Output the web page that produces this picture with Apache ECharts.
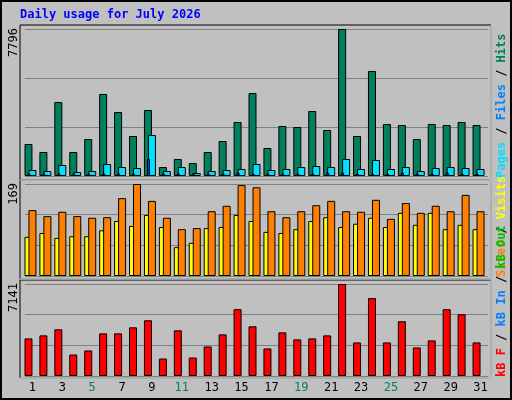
<!DOCTYPE html>
<html><head><meta charset="utf-8">
<script src="https://cdn.jsdelivr.net/npm/echarts@6/dist/echarts.min.js"></script>
<style>
html,body{margin:0;padding:0;background:#c0c0c0;}
#frame{position:absolute;left:0;top:0;width:508px;height:396px;border:2px solid #000;background:#c0c0c0;}
#c{position:absolute;left:0;top:0;width:512px;height:400px;}
</style></head><body>
<div id="frame"></div>
<div id="c"></div>
<script>
const days = ['1','2','3','4','5','6','7','8','9','10','11','12','13','14','15','16','17','18','19','20','21','22','23','24','25','26','27','28','29','30','31'];
const weekendDays = ['4','5','11','12','18','19','25','26'];
const hits = [1697,1273,3924,1273,1962,4349,3394,2121,3500,477,902,689,1273,1856,2864,4402,1485,2652,2599,3447,2440,7796,2121,5569,2758,2705,1962,2758,2705,2864,2705];
const files = [318,265,583,212,265,636,477,424,2175,265,477,159,265,318,371,636,318,371,477,530,477,902,371,849,371,477,265,424,477,424,371];
const pages = [124,124,124,124,124,124,124,124,902,124,124,124,124,124,177,124,124,124,124,124,177,177,124,124,124,177,124,124,177,124,124];
const visits = [72,79,70,73,73,84,101,92,112,90,53,61,88,90,112,101,81,79,86,101,108,90,96,107,90,116,94,116,86,94,86];
const sites = [121,110,118,110,107,108,143,169,138,107,86,88,119,129,167,163,119,108,119,130,138,119,118,140,105,134,116,129,119,149,119];
const kbF = [2919,3154,3623,1668,1981,3310,3310,3779,4326,1355,3544,1433,2293,3232,5186,3857,2137,3388,2841,2919,3154,7141,2606,6046,2606,4248,2215,2763,5186,4795,2606];
const maxLabels = ['7796','169','7141'];
const maxes = [7796,169,7141];

const chart = echarts.init(document.getElementById('c'));
const L = 25, R = 24;
const grids = [{top:29,height:147},{top:184,height:92},{top:284,height:92}];
const empty = days.map(()=>null);
const xAxes = [], series = [];
function addAxis(gi, show){
  xAxes.push({type:'category',data:days,gridIndex:gi,show:show,
    axisLine:{show:false},axisTick:{show:false},
    axisLabel:{show:show,margin:6,fontFamily:'DejaVu Sans Mono',fontSize:12,
      color:(v)=>weekendDays.includes(v)?'#00805c':'#000'}});
  return xAxes.length-1;
}
const bs = {borderColor:'#000',borderWidth:1};
function bar(name,data,ax,yi,color,w,z){
  series.push({name,type:'bar',data,xAxisIndex:ax,yAxisIndex:yi,barWidth:w,barGap:'0%',
    itemStyle:Object.assign({color},bs),z:z,silent:true,animation:false});
}
// panel 1
let a = addAxis(0,false); bar('Hits',hits,a,0,'#00805c',8,2); bar('d',empty,a,0,'#000',8,2);
a = addAxis(0,false); bar('Files',files,a,0,'#00e0ff',8,3);
a = addAxis(0,false); bar('Pages',pages,a,0,'#0040ff',3,4); bar('d',empty,a,0,'#000',7,4);
// panel 2
a = addAxis(1,false); bar('Visits',visits,a,1,'#ffff00',8,2); bar('d',empty,a,1,'#000',8,2);
a = addAxis(1,false); bar('Sites',sites,a,1,'#ff8000',8,3);
// panel 3
a = addAxis(2,true); bar('kB F',kbF,a,2,'#ff0000',8,2); bar('d',empty,a,2,'#000',8,2);

const yAxes = maxes.map((m,i)=>({type:'value',gridIndex:i,min:0,max:m,interval:m/3,
  axisLabel:{show:false},axisLine:{show:false},axisTick:{show:false},
  splitLine:{show:true,lineStyle:{color:'#808080',width:1}}}));

const panels = [[25,180],[180,279],[280,378]];
const graphic = [];
panels.forEach(([t,b])=>{
  graphic.push({type:'rect',z:-10,shape:{x:20,y:t,width:471,height:b-t},style:{fill:'#c0c0c0',stroke:'#000',lineWidth:1}});
  graphic.push({type:'polyline',z:-9,shape:{points:[[20,b],[491,b],[491,t]]},style:{stroke:'#fff',lineWidth:1,fill:null}});
});
const tops = [28,183,283];
maxLabels.forEach((s,i)=>{
  graphic.push({type:'text',x:8,y:tops[i],rotation:Math.PI/2,
    style:{text:s,fontFamily:'DejaVu Sans Mono',fontSize:12,fill:'#000',align:'right',verticalAlign:'top'}});
});
const mono = {fontFamily:'DejaVu Sans Mono',fontSize:12,fontWeight:'bold'};
function legend(yBottom,parts){
  graphic.push({type:'text',x:496,y:yBottom,rotation:Math.PI/2,
    style:Object.assign({text:parts.map((p,i)=>'{s'+i+'|'+p[0]+'}').join(''),verticalAlign:'top',align:'left',
      rich:Object.fromEntries(parts.map((p,i)=>['s'+i,Object.assign({fill:p[1]},mono)]))},mono)});
}
legend(178,[['Pages','#00e0ff'],[' / ','#000'],['Files','#0080ff'],[' / ','#000'],['Hits','#00805c']]);
legend(277,[['Sites','#ff8000'],[' / ','#000'],['Visits','#ffff00']]);
legend(377,[['kB F','#ff0000'],[' / ','#000'],['kB In','#0080ff'],[' / ','#000'],['kB Out','#00c000']]);
graphic.push({type:'text',x:20,y:9,style:{text:'Daily usage for July 2026',fontFamily:'DejaVu Sans Mono',fontSize:12,fontWeight:'bold',fill:'#0000ff'}});

chart.setOption({
  animation:false,
  grid:grids.map(g=>({left:L,right:R,top:g.top,height:g.height})),
  xAxis:xAxes, yAxis:yAxes, series, graphic
});
</script></body></html>
